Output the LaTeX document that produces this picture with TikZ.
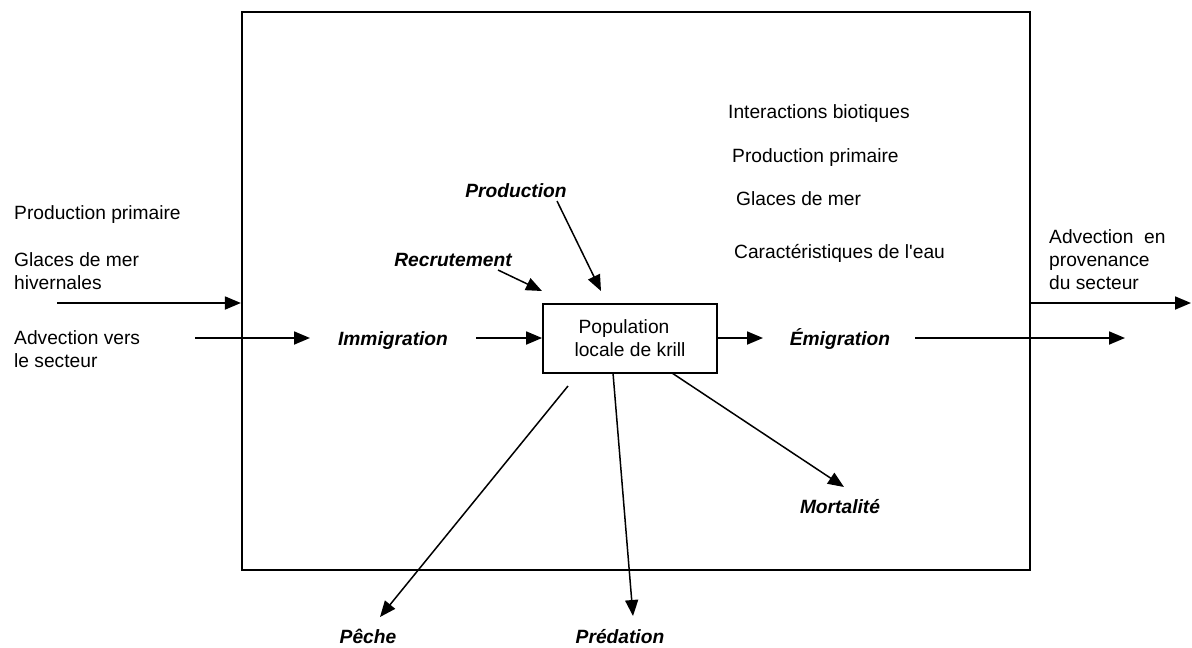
\documentclass[tikz,border=0pt]{standalone}
\usepackage{fontspec}
\setmainfont{Liberation Sans}
\usetikzlibrary{arrows.meta}
\begin{document}
\begin{tikzpicture}[x=1pt,y=-1pt,
  txt/.style={font=\fontsize{19.2}{23}\selectfont, inner sep=0pt, anchor=base west, align=left},
  flow/.style={font=\fontsize{19.2}{23}\selectfont\bfseries\itshape, inner sep=0pt, anchor=base},
  arr/.style={line width=1.8pt, -{Triangle[length=16pt,width=13pt]}},
  diag/.style={line width=1.5pt, -{Triangle[length=16pt,width=13pt]}},
  bigbox/.style={draw, line width=2.2pt, inner sep=0pt},
  krillbox/.style={draw, line width=1.8pt, inner sep=0pt, align=center,
    font=\fontsize{19.2}{23}\selectfont}]
\useasboundingbox (0,0) rectangle (1192,648);

% boxes
\node[bigbox, minimum width=788pt, minimum height=558pt] (big) at (636,291) {};
\node[krillbox, minimum width=174pt, minimum height=69pt] (krill) at (630,338.5)
  {Population\hspace*{12pt}\\locale de krill};

% left texts (base anchor = baseline of last line)
\node[txt] (pp1) at (14,219) {Production primaire};
\node[txt] (gm1) at (14,289) {Glaces de mer\\hivernales};
\node[txt] (av1) at (14,367) {Advection vers\\le secteur};

% inner texts
\node[txt] (ib) at (728,118) {Interactions biotiques};
\node[txt] (pp2) at (732,162) {Production primaire};
\node[txt] (gm2) at (736,205) {Glaces de mer};
\node[txt] (ce) at (734,258) {Caractéristiques de l\textquotesingle eau};

% right text
\node[txt] (av2) at (1049,289) {Advection~~en\\provenance\\du secteur};

% flow labels
\node[flow] (prod) at (516,197) {Production};
\node[flow] (recr) at (453,266) {Recrutement};
\node[flow] (imm) at (393,345) {Immigration};
\node[flow] (emi) at (840,345) {Émigration};
\node[flow] (mort) at (840,513) {Mortalité};
\node[flow] (peche) at (368,643) {Pêche};
\node[flow] (pred) at (620,643) {Prédation};

% coordinates
\coordinate (g0) at (57,303);
\coordinate (a0) at (195,338);
\coordinate (a1) at (310,338);
\coordinate (i0) at (476,338);
\coordinate (r0) at (498,270);
\coordinate (r1) at (542,291);
\coordinate (p0) at (557,201);
\coordinate (p1) at (601,291);
\coordinate (e1) at (763,338);
\coordinate (e2) at (915,338);
\coordinate (e3) at (1125,338);
\coordinate (o0) at (1030,303);
\coordinate (o1) at (1191,303);
\coordinate (pe0) at (568,386);
\coordinate (pe1) at (380,617);
\coordinate (pr0) at (613,373);
\coordinate (pr1) at (633,616);
\coordinate (m0) at (672,373);
\coordinate (m1) at (844,487);

% connectors
\draw[arr] (g0) -- (g0 -| big.west);
\draw[arr] (a0) -- (a1);
\draw[arr] (i0) -- (i0 -| krill.west);
\draw[diag] (r0) -- (r1);
\draw[diag] (p0) -- (p1);
\draw[arr] (e1 -| krill.east) -- (e1);
\draw[arr] (e2) -- (e3);
\draw[arr] (o0 -| big.east) -- (o1);
\draw[diag] (pe0) -- (pe1);
\draw[diag] (pr0) -- (pr1);
\draw[diag] (m0) -- (m1);
\end{tikzpicture}
\end{document}
